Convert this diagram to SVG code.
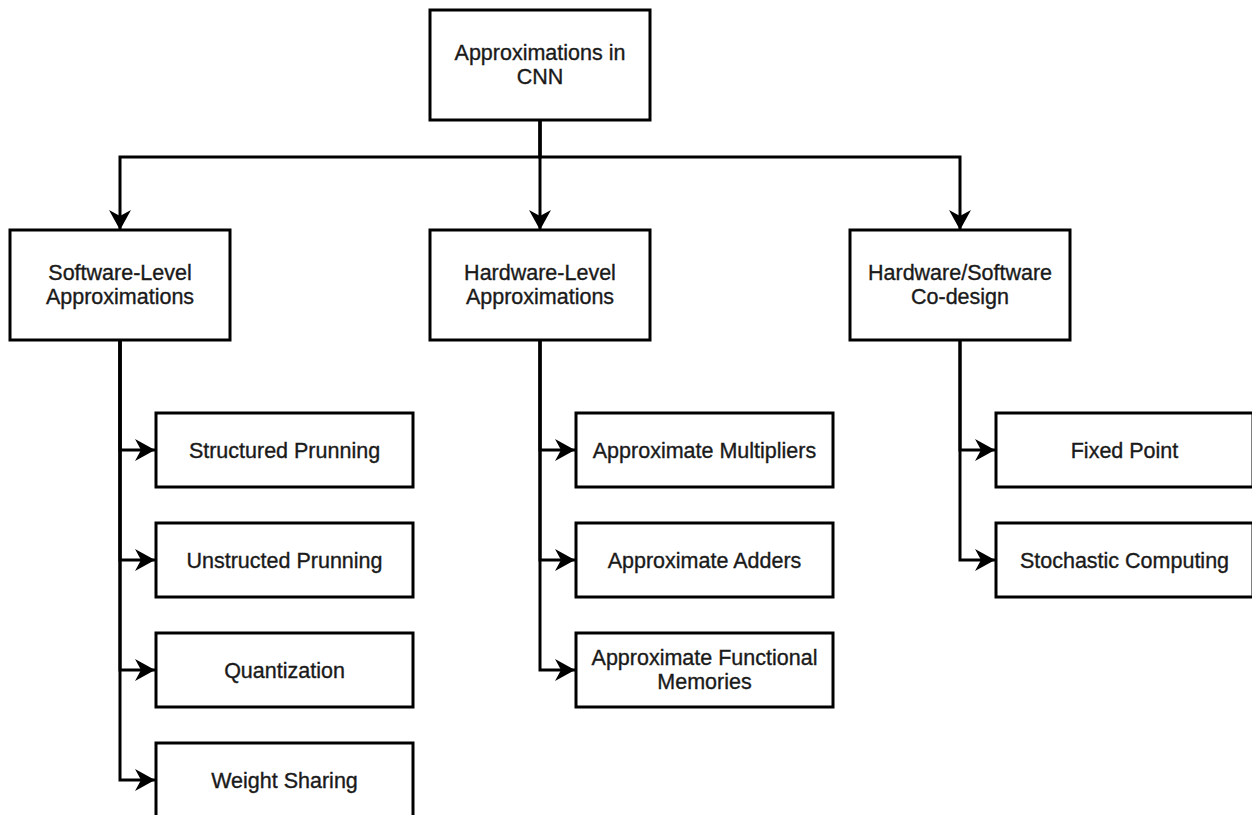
<svg xmlns="http://www.w3.org/2000/svg" width="1252" height="815" viewBox="0 0 1252 815">
<style>
.box{fill:#ffffff;stroke:#000000;stroke-width:3}
.lbl{font-family:"Liberation Sans",Arial,Helvetica,sans-serif;font-size:21.5px;fill:#1a1a1a;stroke:#1a1a1a;stroke-width:0.35;text-anchor:middle}
.edge{fill:none;stroke:#000000;stroke-width:3}
</style>
<defs>
<marker id="arr" viewBox="0 0 22 24" refX="20" refY="12" markerWidth="22" markerHeight="24" markerUnits="userSpaceOnUse" orient="auto">
<path d="M20,12 L0,1 L6,12 L0,23 Z" fill="#000000"/>
</marker>
</defs>
<rect width="1252" height="815" fill="#ffffff"/>
<g id="connectors">
<path class="edge" d="M540,120 V157 H120 V230" marker-end="url(#arr)"/>
<path class="edge" d="M540,120 V230" marker-end="url(#arr)"/>
<path class="edge" d="M540,120 V157 H960 V230" marker-end="url(#arr)"/>
<path class="edge" d="M120,340 V450 H155" marker-end="url(#arr)"/>
<path class="edge" d="M120,340 V560 H155" marker-end="url(#arr)"/>
<path class="edge" d="M120,340 V670 H155" marker-end="url(#arr)"/>
<path class="edge" d="M120,340 V780 H155" marker-end="url(#arr)"/>
<path class="edge" d="M540,340 V450 H575" marker-end="url(#arr)"/>
<path class="edge" d="M540,340 V560 H575" marker-end="url(#arr)"/>
<path class="edge" d="M540,340 V670 H575" marker-end="url(#arr)"/>
<path class="edge" d="M960,340 V450 H995" marker-end="url(#arr)"/>
<path class="edge" d="M960,340 V560 H995" marker-end="url(#arr)"/>
</g>
<g id="root">
<rect class="box" x="430" y="10" width="220" height="110"/>
<text class="lbl" x="540" y="60">Approximations in</text>
<text class="lbl" x="540" y="84">CNN</text>
</g>
<g id="software-level">
<rect class="box" x="10" y="230" width="220" height="110"/>
<text class="lbl" x="120" y="280">Software-Level</text>
<text class="lbl" x="120" y="304">Approximations</text>
</g>
<g id="hardware-level">
<rect class="box" x="430" y="230" width="220" height="110"/>
<text class="lbl" x="540" y="280">Hardware-Level</text>
<text class="lbl" x="540" y="304">Approximations</text>
</g>
<g id="hw-sw-codesign">
<rect class="box" x="850" y="230" width="220" height="110"/>
<text class="lbl" x="960" y="280">Hardware/Software</text>
<text class="lbl" x="960" y="304">Co-design</text>
</g>
<g id="structured-prunning">
<rect class="box" x="156" y="413" width="257" height="74"/>
<text class="lbl" x="284.5" y="457.5">Structured Prunning</text>
</g>
<g id="unstructed-prunning">
<rect class="box" x="156" y="523" width="257" height="74"/>
<text class="lbl" x="284.5" y="567.5">Unstructed Prunning</text>
</g>
<g id="quantization">
<rect class="box" x="156" y="633" width="257" height="74"/>
<text class="lbl" x="284.5" y="677.5">Quantization</text>
</g>
<g id="weight-sharing">
<rect class="box" x="156" y="743" width="257" height="74"/>
<text class="lbl" x="284.5" y="787.5">Weight Sharing</text>
</g>
<g id="approx-multipliers">
<rect class="box" x="576" y="413" width="257" height="74"/>
<text class="lbl" x="704.5" y="457.5">Approximate Multipliers</text>
</g>
<g id="approx-adders">
<rect class="box" x="576" y="523" width="257" height="74"/>
<text class="lbl" x="704.5" y="567.5">Approximate Adders</text>
</g>
<g id="approx-functional-memories">
<rect class="box" x="576" y="633" width="257" height="74"/>
<text class="lbl" x="704.5" y="665">Approximate Functional</text>
<text class="lbl" x="704.5" y="689">Memories</text>
</g>
<g id="fixed-point">
<rect class="box" x="996" y="413" width="257" height="74"/>
<text class="lbl" x="1124.5" y="457.5">Fixed Point</text>
</g>
<g id="stochastic-computing">
<rect class="box" x="996" y="523" width="257" height="74"/>
<text class="lbl" x="1124.5" y="567.5">Stochastic Computing</text>
</g>
</svg>
